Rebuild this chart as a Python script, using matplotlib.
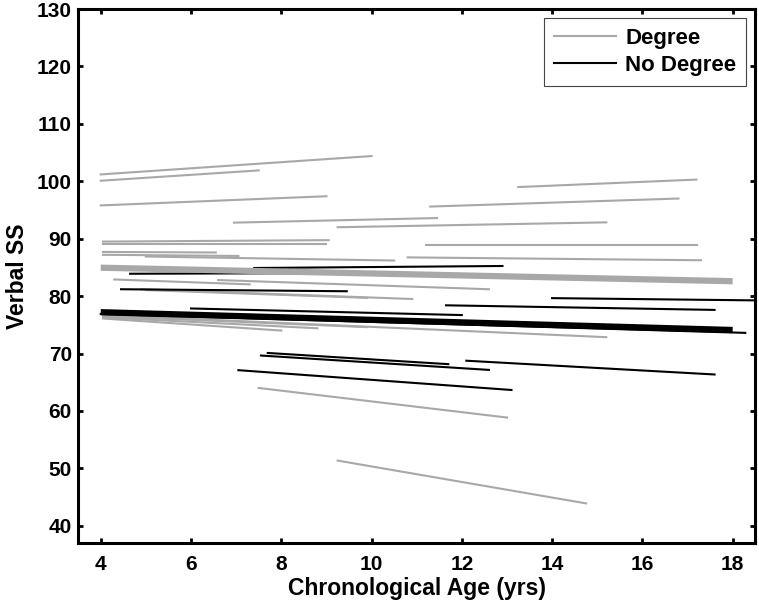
import matplotlib
matplotlib.use("Agg")
import matplotlib.pyplot as plt

plt.rcParams['font.family'] = ['Liberation Sans', 'DejaVu Sans']
plt.rcParams['font.weight'] = 'bold'

# individual trajectories: (start age, end age), (start SS, end SS)
degree_age = [(4.0, 10.0), (4.0, 7.5), (4.0, 9.0), (13.25, 17.2), (11.3, 16.8),
              (6.95, 11.45), (9.25, 15.2), (4.05, 9.05), (4.05, 9.0), (11.2, 17.2),
              (4.05, 6.55), (4.05, 7.05), (5.0, 10.5), (10.8, 17.3), (4.3, 7.3),
              (6.6, 12.6), (4.9, 10.9), (5.0, 9.9), (4.05, 8.0), (4.05, 8.8),
              (4.05, 9.9), (4.05, 15.2), (7.5, 13.0), (9.25, 14.75)]
degree_ss = [(101.2, 104.4), (100.1, 101.9), (95.8, 97.4), (99.0, 100.3), (95.6, 97.0),
             (92.8, 93.6), (92.0, 92.85), (89.5, 89.75), (89.0, 89.0), (88.85, 88.85),
             (87.7, 87.6), (87.2, 87.0), (86.9, 86.2), (86.75, 86.25), (82.9, 82.05),
             (82.8, 81.2), (81.2, 79.5), (81.05, 79.7), (76.1, 74.0), (76.3, 74.4),
             (76.5, 74.6), (76.7, 72.85), (64.0, 58.85), (51.35, 43.9)]

nodegree_age = [(4.65, 9.0), (7.4, 12.9), (4.45, 9.45), (6.0, 12.0), (14.0, 18.6),
                (11.65, 17.6), (4.0, 18.28), (7.7, 11.7), (7.55, 12.6), (12.1, 17.6),
                (7.05, 13.1)]
nodegree_ss = [(83.9, 84.0), (84.9, 85.25), (81.2, 80.85), (77.85, 76.7), (79.65, 79.25),
               (78.4, 77.6), (76.9, 73.6), (70.1, 68.15), (69.65, 67.15), (68.75, 66.35),
               (67.1, 63.65)]

# group mean trajectories
mean_age = (4.0, 18.0)
degree_mean = (84.95, 82.6)
nodegree_mean = (77.2, 74.1)

gray = '#a8a8a8'

fig = plt.figure(figsize=(7.59, 6.06), dpi=100)
ax = fig.add_axes([0.103, 0.104, 0.892, 0.881])

for i, (xs, ys) in enumerate(zip(degree_age, degree_ss)):
    ax.plot(xs, ys, color=gray, lw=1.5, label='Degree' if i == 0 else None)
for i, (xs, ys) in enumerate(zip(nodegree_age, nodegree_ss)):
    ax.plot(xs, ys, color='black', lw=1.5, label='No Degree' if i == 0 else None)

ax.plot(mean_age, degree_mean, color=gray, lw=4.5, solid_capstyle='butt')
ax.plot(mean_age, nodegree_mean, color='black', lw=4.5, solid_capstyle='butt')

ax.set_xlim(3.5, 18.5)
ax.set_ylim(37, 130)
ax.set_xticks(range(4, 19, 2))
ax.set_yticks(range(40, 131, 10))
ax.tick_params(direction='in', length=3.5, width=2, labelsize=15,
               top=True, right=True)
ax.tick_params(axis='x', pad=9)
ax.tick_params(axis='y', pad=4.5)
for s in ax.spines.values():
    s.set_linewidth(2.2)

ax.set_xlabel('Chronological Age (yrs)', fontsize=16.5, fontweight='bold', labelpad=2)
ax.set_ylabel('Verbal SS', fontsize=16.5, fontweight='bold', labelpad=6)

leg = ax.legend(loc='upper right', fontsize=16, fancybox=False, framealpha=1,
                edgecolor='#444444', handlelength=2.8, borderaxespad=0.4,
                handletextpad=0.4, labelspacing=0.25, borderpad=0.45)
leg.get_frame().set_linewidth(0.8)

fig.savefig('out.png', dpi=100)
